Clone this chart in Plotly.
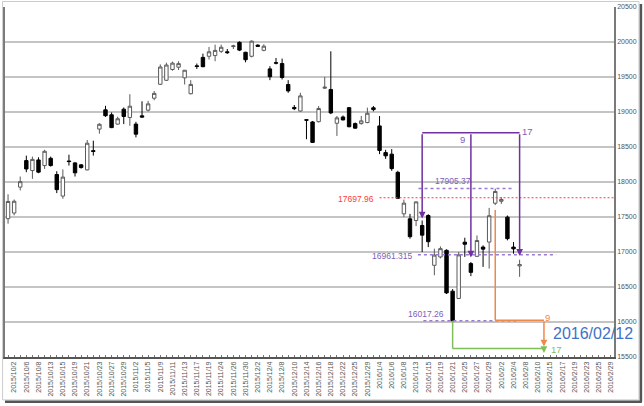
import plotly.graph_objects as go

# ---- trading-day categories (Japan) ----
oct_days = [1, 2, 5, 6, 7, 8, 9, 13, 14, 15, 16, 19, 20, 21, 22, 23, 26, 27, 28, 29, 30]
nov_days = [2, 4, 5, 6, 9, 10, 11, 12, 13, 16, 17, 18, 19, 20, 24, 25, 26, 27, 30]
dec_days = [1, 2, 3, 4, 7, 8, 9, 10, 11, 14, 15, 16, 17, 18, 21, 22, 24, 25, 28, 29, 30]
jan_days = [4, 5, 6, 7, 8, 12, 13, 14, 15, 18, 19, 20, 21, 22, 25, 26, 27, 28, 29]
feb_days = [1, 2, 3, 4, 5, 8, 9, 10, 12, 15, 16, 17, 18, 19, 22, 23, 24, 25, 26, 29]

dates = ([f"2015/10/{d}" for d in oct_days] + [f"2015/11/{d}" for d in nov_days] +
         [f"2015/12/{d}" for d in dec_days] + [f"2016/1/{d}" for d in jan_days] +
         [f"2016/2/{d}" for d in feb_days])

# ---- OHLC (2015/10/1 .. 2016/2/5) ----
opens = [17476, 17557, 17927, 18306, 18164, 18315, 18235, 18339, 18107, 17799,
         18300, 18273, 18245, 18173, 18448, 18756, 19031, 18960, 18827, 19040,
         18922, 18827, 18945, 19026, 19197, 19396, 19453, 19607, 19640, 19488,
         19261, 19660, 19780, 19796, 19806, 19867, 19860, 19935, 19995, 19853,
         19796, 19955, 19881, 19616, 19705, 19692, 19393, 19065, 19014, 18890,
         18858, 18862, 19340, 19322, 18839, 18929, 19062, 18834, 18834, 18849,
         19060, 18801, 18420, 18398, 18138, 17545, 17474, 17450, 17379, 17521,
         16810, 16929, 17024, 16440, 16336, 17140, 16834, 16938, 17070, 17142,
         17697, 17725, 17498, 17070, 16801]
highs = [17825, 17750, 18078, 18377, 18363, 18353, 18460, 18363, 18154, 18180,
         18390, 18283, 18255, 18600, 18590, 18840, 19088, 18993, 18932, 19064,
         19254, 18860, 19153, 19159, 19300, 19680, 19704, 19720, 19725, 19600,
         19455, 19692, 19834, 19929, 19962, 19962, 19900, 19960, 20009, 19860,
         20023, 19967, 19967, 19654, 19772, 19763, 19455, 19100, 19275, 18895,
         18872, 19085, 19502, 19867, 18943, 18950, 19070, 18850, 18943, 19062,
         19085, 18943, 18460, 18470, 18160, 17749, 17545, 17720, 17450, 17540,
         17047, 17080, 17038, 16470, 17000, 17204, 16857, 17237, 17095, 17630,
         17905.37, 17782, 17521, 17142, 16890]
lows = [17405, 17524, 17879, 18140, 18045, 18126, 18187, 18220, 17841, 17760,
        18235, 18078, 18190, 18165, 18377, 18690, 18930, 18770, 18818, 18827,
        18803, 18637, 18920, 19007, 19168, 19386, 19443, 19590, 19600, 19393,
        19251, 19615, 19640, 19749, 19725, 19843, 19830, 19900, 19870, 19710,
        19780, 19930, 19867, 19455, 19680, 19465, 19275, 19027, 19005, 18611,
        18560, 18850, 19330, 18970, 18658, 18880, 18780, 18760, 18820, 18840,
        19010, 18398, 18330, 18160, 17760, 17498, 17190, 17370, 17000, 17070,
        16668, 16910, 16400, 16017.26, 16330, 16930, 16655, 16930, 16787, 16763,
        17670, 17687, 17166, 16976, 16645]
closes = [17722, 17725, 18005, 18186, 18323, 18141, 18439, 18235, 17891, 18070,
          18292, 18131, 18207, 18554, 18436, 18825, 18947, 18777, 18903, 18936,
          19083, 18683, 18927, 19116, 19266, 19643, 19671, 19698, 19691, 19597,
          19394, 19650, 19647, 19860, 19880, 19925, 19848, 19944, 19884, 19747,
          20012, 19938, 19940, 19504, 19698, 19493, 19301, 19047, 19230, 18883,
          18566, 19050, 19354, 18987, 18916, 18887, 18790, 18769, 18873, 18982,
          19034, 18451, 18374, 18191, 17767, 17698, 17219, 17716, 17241, 17147,
          16956, 17048, 16416, 16017.26, 16959, 17111, 16709, 17164, 17041, 17518,
          17865, 17751, 17191, 17045, 16820]

tick_labels = [d if i % 2 == 1 else "" for i, d in enumerate(dates)]

# key levels and markers used by the annotations
level_high = 17905.37
level_mid = 16961.315
level_low = 16017.26
level_red = 17697.96
red_line_y = 17775
purple_top = 18703
FONT = "Liberation Sans"
PURPLE = "#7030a0"
PURPLE_TXT = "#8060b8"
ORANGE = "#f0884a"
GREEN = "#7fbf5a"
RED = "#ff3b3b"
BLUE = "#3f72c6"

fig = go.Figure()
fig.add_trace(go.Candlestick(
    x=dates[:len(opens)], open=opens, high=highs, low=lows, close=closes,
    increasing=dict(line=dict(color="#5a5a5a", width=1), fillcolor="white"),
    decreasing=dict(line=dict(color="#000000", width=1), fillcolor="#000000"),
    whiskerwidth=0, hoverinfo="skip", showlegend=False,
))

shapes = []
def hline(x0, x1, y, color, dash="solid", width=1.5):
    shapes.append(dict(type="line", xref="x", yref="y", x0=x0, x1=x1, y0=y, y1=y,
                       line=dict(color=color, width=width, dash=dash)))
def vline(x, y0, y1, color, width=1.5):
    shapes.append(dict(type="line", xref="x", yref="y", x0=x, x1=x, y0=y0, y1=y1,
                       line=dict(color=color, width=width)))

# dotted / dashed levels
hline(67.4, 83.0, level_high, "#9a7ad0", "dot")
hline(67.3, 90.0, level_mid, "#9a7ad0", "dot")
hline(68.2, 83.8, level_low, "#9a7ad0", "dot")
hline(61.0, 99.5, red_line_y, RED, "2px,2px", 1)

# purple count bracket
hline(68, 84, purple_top, PURPLE)
# orange path
vline(80, 17600, 16025, ORANGE)
hline(80, 88, 16025, ORANGE)
# green path
vline(73, 16017, 15620, GREEN)
hline(73, 88, 15620, GREEN)

# frame around the whole picture (paper coords)
shapes.append(dict(type="rect", xref="paper", yref="paper", x0=-0.004, x1=1.041,
                   y0=-0.1225, y1=1.0157, line=dict(color="#cccccc", width=1)))
shapes.append(dict(type="line", xref="paper", yref="paper", x0=1.0442, x1=1.0442,
                   y0=1.0085, y1=-0.128, line=dict(color="#555555", width=2.5)))
shapes.append(dict(type="line", xref="paper", yref="paper", x0=0.0, x1=1.0458,
                   y0=-0.128, y1=-0.128, line=dict(color="#555555", width=2.5)))

ann = []
def arrow(x, y_tail, y_tip, color):
    ann.append(dict(x=x, y=y_tip, ax=x, ay=y_tail, xref="x", yref="y", axref="x", ayref="y",
                    text="", showarrow=True, arrowhead=2, arrowsize=0.9, arrowwidth=1.5,
                    arrowcolor=color, standoff=0))
arrow(68, purple_top, 17478, PURPLE)
arrow(76, purple_top, 16922, PURPLE)
arrow(84, purple_top, 16945, PURPLE)
arrow(88, 16025, 15650, ORANGE)
arrow(88, 15620, 15556, GREEN)

def label(x, y, text, color, size=8.5, xanchor="center"):
    ann.append(dict(x=x, y=y, xref="x", yref="y", text=text, showarrow=False,
                    font=dict(family=FONT, size=size, color=color), xanchor=xanchor,
                    yanchor="middle"))
label(73.0, 18009, f"{level_high:.2f}", PURPLE_TXT)
label(57.1, 17752, f"{level_red:.2f}", RED)
label(63.1, 16939, f"{level_mid:.3f}", PURPLE_TXT)
label(68.6, 16113, f"{level_low:.2f}", PURPLE_TXT)
label(74.7, 18603, "9", PURPLE_TXT, 9.5)
label(85.3, 18721, "17", PURPLE_TXT, 9.5)
label(88.6, 16070, "9", ORANGE, 9.5)
label(90.0, 15601, "17", GREEN, 9.5)
label(89.1, 15838, "2016/02/12", BLUE, 16, "left")

fig.update_layout(
    width=644, height=406,
    margin=dict(l=3, r=30, t=6, b=49),
    paper_bgcolor="white", plot_bgcolor="white",
    font=dict(family=FONT, size=7, color="#444444"),
    shapes=shapes, annotations=ann,
    boxgap=0.2,
    xaxis=dict(type="category", categoryorder="array", categoryarray=dates,
               range=[-0.5, len(dates) - 0.5], tickmode="array", tickvals=dates,
               ticktext=tick_labels, tickangle=-90, tickfont=dict(size=7, color="#555"),
               ticks="inside", ticklen=2, tickcolor="#777", showgrid=False,
               showline=True, linecolor="#555", linewidth=1.5, zeroline=False,
               rangeslider=dict(visible=False), fixedrange=True),
    yaxis=dict(side="right", range=[15500, 20500], tick0=15500, dtick=500,
               tickformat="d",
               showgrid=True, gridcolor="#c4c4c4", gridwidth=1.5,
               showline=True, mirror=True, linecolor="#7a7a7a", linewidth=1.5,
               ticks="", tickfont=dict(size=7, color="#555"), zeroline=False,
               fixedrange=True),
)

fig.write_html("out.html")
